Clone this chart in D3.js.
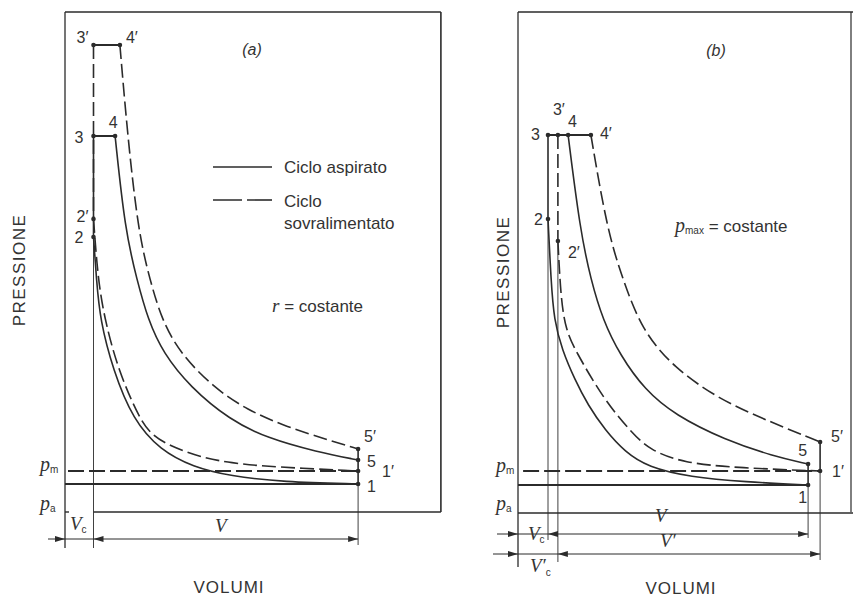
<!DOCTYPE html>
<html><head><meta charset="utf-8">
<script src="https://cdn.jsdelivr.net/npm/d3@7"></script>
<style>body{margin:0;background:#fff}svg{display:block;background:#fff}</style>
</head><body><svg id="c" width="853" height="598"></svg>
<script>
// ---------------- DATA (V in clearance-volume units, p in arbitrary pressure units) ----------------
const panelTitles = ["(a)", "(b)"];
const legendTexts = ["Ciclo aspirato", "Ciclo", "sovralimentato"];
const axisTitles = ["PRESSIONE", "VOLUMI"];

// Panel (a): r = costante
const aVc = 0.95, aV1 = 9.77;
const aP = {p3s: 46.7, p3: 37.6, p2s: 29.3, p2: 27.5, p5s: 6.3, p5: 5.2, p1s: 4.1, p1: 2.8, pa: 0};
const aV4 = 1.67, aV4s = 1.83;
const aCompSolid = [[0.95,27.5],[1.05,23.2],[1.17,19.2],[1.6,14.2],[2.27,9.2],[3.17,6.2],[4.27,4.5],[5.5,3.6],[7.27,3.0],[9.77,2.8]];
const aCompDash  = [[0.95,29.3],[1.1,23.2],[1.33,19.2],[1.77,14.2],[2.5,9.2],[2.9,7.7],[3.5,6.6],[4.5,5.5],[5.5,4.9],[6.93,4.5],[9.77,4.1]];
const aExpSolid  = [[1.67,37.6],[2.0,28.2],[2.4,23.2],[2.77,19.2],[3.27,15.9],[4.17,12.5],[5.5,9.2],[6.73,7.4],[8.4,6.0],[9.77,5.2]];
const aExpDash   = [[1.83,46.7],[2.07,38.2],[2.43,28.2],[2.83,23.2],[3.23,19.2],[3.83,15.9],[4.93,12.5],[6.07,10.2],[7.4,8.5],[8.83,7.15],[9.77,6.3]];

// Panel (b): p_max = costante
const bVc = 1.0, bVcs = 1.33, bV1 = 9.67, bV1s = 10.07;
const bP = {p3: 37.7, p2: 29.3, p2s: 27.1, p5s: 7.0, p5: 4.8, p1s: 4.1, p1: 2.7, pa: 0};
const bV4 = 1.67, bV4s = 2.43;
const bCompSolid = [[1.0,29.3],[1.1,23.2],[1.2,19.2],[1.47,16.2],[1.9,13.2],[2.33,10.7],[2.9,8.2],[3.57,6.0],[4.33,4.5],[5.73,3.5],[7.57,3.0],[9.67,2.7]];
const bCompDash  = [[1.33,27.1],[1.43,21.2],[1.6,18.2],[1.9,16.2],[2.87,11.2],[3.8,7.9],[4.4,6.2],[5.5,4.9],[7.4,4.4],[10.07,4.1]];
const bExpSolid  = [[1.67,37.7],[2.07,28.2],[2.43,23.2],[2.83,19.2],[3.4,15.7],[4.23,12.2],[5.23,9.7],[6.9,7.2],[8.5,5.6],[9.67,4.8]];
const bExpDash   = [[2.43,37.7],[2.97,28.2],[3.5,23.2],[4.13,18.2],[5.17,14.5],[6.73,11.2],[8.5,8.9],[10.07,7.0]];

// ---------------- DRAWING ----------------
const INK = "#2b2b2b", TXT = "#333";
const SANS = "'Liberation Sans', Arial, sans-serif";
const SERIF = "'Liberation Serif', 'Times New Roman', serif";
const svg = d3.select("#c");
const x = d3.scaleLinear().domain([0, 12.5]).range([0, 375]);
const y = d3.scaleLinear().domain([0, 50]).range([500, 0]);
const curve = d3.line().x(d => x(d[0])).y(d => y(d[1])).curve(d3.curveBasis);
const DASH = "14,5";

function seg(g, v1, p1, v2, p2, w, dash) {
  g.append("line").attr("x1", x(v1)).attr("y1", y(p1)).attr("x2", x(v2)).attr("y2", y(p2))
    .attr("stroke", INK).attr("stroke-width", w).attr("stroke-dasharray", dash || null);
}
function vlinePx(g, v, p, yBottomPx, w) {
  g.append("line").attr("x1", x(v)).attr("x2", x(v)).attr("y1", y(p)).attr("y2", yBottomPx)
    .attr("stroke", INK).attr("stroke-width", w);
}
function path(g, data, dash) {
  g.append("path").attr("d", curve(data)).attr("fill", "none").attr("stroke", INK)
    .attr("stroke-width", 1.6).attr("stroke-dasharray", dash || null);
}
function dot(g, v, p) { g.append("circle").attr("cx", x(v)).attr("cy", y(p)).attr("r", 2.3).attr("fill", INK); }
function label(g, t, v, p, dx, dy, anchor) {
  g.append("text").attr("x", x(v) + dx).attr("y", y(p) + dy).attr("text-anchor", anchor || "start")
    .attr("font-family", SANS).attr("font-size", 16).attr("fill", TXT).text(t);
}
function arrow(g, xt, yt, dir) {
  g.append("path").attr("d", `M${xt},${yt} L${xt - dir * 10},${yt - 3} L${xt - dir * 10},${yt + 3} Z`).attr("fill", INK);
}
function sub(g, xp, yp, main, subT, opts) {
  opts = opts || {};
  const t = g.append("text").attr("x", xp).attr("y", yp).attr("fill", TXT);
  t.append("tspan").attr("font-family", SERIF).attr("font-style", "italic").attr("font-size", opts.size || 19).text(main);
  t.append("tspan").attr("font-family", SANS).attr("font-size", opts.subSize || 10).attr("dy", opts.subDy || 3).text(subT);
  return t;
}
function vtitle(xc, yc) {
  svg.append("text").attr("transform", `translate(${xc},${yc}) rotate(-90)`).attr("text-anchor", "middle")
    .attr("font-family", SANS).attr("font-size", 17).attr("letter-spacing", 1.5).attr("fill", TXT).text(axisTitles[0]);
}
function htitle(xc, yb) {
  svg.append("text").attr("x", xc).attr("y", yb).attr("text-anchor", "middle")
    .attr("font-family", SANS).attr("font-size", 17).attr("letter-spacing", 1).attr("fill", TXT).text(axisTitles[1]);
}

// ===== Panel (a) =====
const ga = svg.append("g").attr("transform", "translate(65,12)");
const aRight = 12.53;
seg(ga, 0, 50, aRight, 50, 1.6);
vlinePx(ga, 0, 50, 536, 1.3);
seg(ga, aRight, 50, aRight, 0, 1.6);
seg(ga, aVc, aP.pa, aRight, aP.pa, 1.6);
ga.append("line").attr("x1", 0).attr("x2", 4).attr("y1", y(0)).attr("y2", y(0)).attr("stroke", INK).attr("stroke-width", 1.4);
vlinePx(ga, aVc, aP.p2, 536, 0.9);
seg(ga, aVc, aP.p3s, aVc, aP.p2s, 1.6, DASH);
seg(ga, aVc, aP.p3, aVc, aP.p2, 1.6);
vlinePx(ga, aV1, aP.p1, 533, 0.9);
seg(ga, aV1, aP.p5s, aV1, aP.p1, 1.6);
seg(ga, 0, aP.p1, aV1, aP.p1, 1.8);
seg(ga, 0.1, aP.p1s, aV1, aP.p1s, 1.8, "16,5");
seg(ga, aVc, aP.p3s, aV4s, aP.p3s, 2);
seg(ga, aVc, aP.p3, aV4, aP.p3, 2);
path(ga, aCompSolid); path(ga, aExpSolid);
path(ga, aCompDash, DASH); path(ga, aExpDash, DASH);
[[aVc,aP.p3s],[aV4s,aP.p3s],[aVc,aP.p3],[aV4,aP.p3],[aVc,aP.p2s],[aVc,aP.p2],[aV1,aP.p5s],[aV1,aP.p5],[aV1,aP.p1s],[aV1,aP.p1]].forEach(d => dot(ga, d[0], d[1]));
label(ga, "3′", aVc, aP.p3s, -5, -2, "end");
label(ga, "4′", aV4s, aP.p3s, 6, -2);
label(ga, "3", aVc, aP.p3, -10, 7, "end");
label(ga, "4", aV4, aP.p3, -2, -8, "middle");
label(ga, "2′", aVc, aP.p2s, -5, 3, "end");
label(ga, "2", aVc, aP.p2, -10, 6, "end");
label(ga, "5′", aV1, aP.p5s, 6, -7);
label(ga, "5", aV1, aP.p5, 9, 7);
label(ga, "1′", aV1, aP.p1s, 24, 6);
label(ga, "1", aV1, aP.p1, 9, 8);
ga.append("line").attr("x1", -17).attr("x2", x(aV1)).attr("y1", 527).attr("y2", 527).attr("stroke", INK).attr("stroke-width", 1);
arrow(ga, x(0), 527, 1); arrow(ga, x(aVc), 527, -1); arrow(ga, x(aV1), 527, 1);
sub(ga, 5, 518, "V", "c", {size: 19, subSize: 10, subDy: 3});
ga.append("text").attr("x", 150).attr("y", 520).attr("font-family", SERIF).attr("font-style", "italic").attr("font-size", 19).attr("fill", TXT).text("V");
sub(svg, 40, 471, "p", "m", {size: 20, subSize: 10, subDy: 2});
sub(svg, 40, 510, "p", "a", {size: 20, subSize: 10, subDy: 2});
svg.append("text").attr("x", 252).attr("y", 55).attr("text-anchor", "middle").attr("font-family", SANS).attr("font-style", "italic").attr("font-size", 16).attr("fill", TXT).text(panelTitles[0]);
svg.append("line").attr("x1", 213).attr("x2", 272).attr("y1", 167).attr("y2", 167).attr("stroke", INK).attr("stroke-width", 1.6);
svg.append("line").attr("x1", 213).attr("x2", 272).attr("y1", 200).attr("y2", 200).attr("stroke", INK).attr("stroke-width", 1.6).attr("stroke-dasharray", "29,5");
[[legendTexts[0], 173], [legendTexts[1], 207], [legendTexts[2], 229]].forEach(d =>
  svg.append("text").attr("x", 284).attr("y", d[1]).attr("font-family", SANS).attr("font-size", 17).attr("fill", TXT).text(d[0]));
{
  const t = svg.append("text").attr("x", 272).attr("y", 312).attr("fill", TXT).attr("font-size", 17);
  t.append("tspan").attr("font-family", SERIF).attr("font-style", "italic").attr("font-size", 19).text("r");
  t.append("tspan").attr("font-family", SANS).text(" = costante");
}
vtitle(25, 270);
htitle(229, 593);

// ===== Panel (b) =====
const gb = svg.append("g").attr("transform", "translate(518,12)");
const bRight = 11.1;
seg(gb, 0, 50, 11.2, 50, 1.6);
vlinePx(gb, 0, 50, 555, 1.3);
seg(gb, bRight, 50, bRight, 0, 1.2);
seg(gb, 0, bP.pa - 0.1, 11.2, bP.pa - 0.1, 1.6);
vlinePx(gb, bVc, bP.p2, 528, 0.9);
vlinePx(gb, bVcs, bP.p2s, 550, 0.9);
seg(gb, bVc, bP.p3, bVc, bP.p2, 1.6);
seg(gb, bVcs, bP.p3, bVcs, bP.p2s, 1.6, DASH);
vlinePx(gb, bV1, bP.p1, 526, 0.9);
vlinePx(gb, bV1s, bP.p1s, 548, 0.9);
seg(gb, bV1, bP.p5, bV1, bP.p1, 1.6);
seg(gb, bV1s, bP.p5s, bV1s, bP.p1s, 1.6);
seg(gb, 0, bP.p1, bV1, bP.p1, 1.8);
seg(gb, 0.17, bP.p1s, bV1s, bP.p1s, 1.8, "16,5");
seg(gb, bVc, bP.p3, bV4s, bP.p3, 2);
path(gb, bCompSolid); path(gb, bExpSolid);
path(gb, bCompDash, DASH); path(gb, bExpDash, DASH);
[[bVc,bP.p3],[bVcs,bP.p3],[bV4,bP.p3],[bV4s,bP.p3],[bVc,bP.p2],[bVcs,bP.p2s],[bV1s,bP.p5s],[bV1,bP.p5],[bV1s,bP.p1s],[bV1,bP.p1]].forEach(d => dot(gb, d[0], d[1]));
label(gb, "3", bVc, bP.p3, -8, 5, "end");
label(gb, "3′", bVcs, bP.p3, -5, -20);
label(gb, "4", bV4, bP.p3, 0, -8);
label(gb, "4′", bV4s, bP.p3, 9, 4);
label(gb, "2", bVc, bP.p2, -5, 6, "end");
label(gb, "2′", bVcs, bP.p2s, 10, 17);
label(gb, "5′", bV1s, bP.p5s, 11, 0);
label(gb, "5", bV1, bP.p5, -1, -8, "end");
label(gb, "1′", bV1s, bP.p1s, 12, 6);
label(gb, "1", bV1, bP.p1, -1, 18, "end");
gb.append("line").attr("x1", -21).attr("x2", x(bV1)).attr("y1", 522).attr("y2", 522).attr("stroke", INK).attr("stroke-width", 1);
arrow(gb, x(0), 522, 1); arrow(gb, x(bVc), 522, -1); arrow(gb, x(bV1), 522, 1);
gb.append("line").attr("x1", -25).attr("x2", x(bV1s)).attr("y1", 542).attr("y2", 542).attr("stroke", INK).attr("stroke-width", 1);
arrow(gb, x(0), 542, 1); arrow(gb, x(bVcs), 542, -1); arrow(gb, x(bV1s), 542, 1);
sub(gb, 10, 528, "V", "c", {size: 19, subSize: 10, subDy: 3});
{
  const t = gb.append("text").attr("x", 12).attr("y", 560).attr("fill", TXT);
  t.append("tspan").attr("font-family", SERIF).attr("font-style", "italic").attr("font-size", 19).text("V′");
  t.append("tspan").attr("font-family", SANS).attr("font-size", 10).attr("dy", 4).text("c");
}
gb.append("text").attr("x", 137).attr("y", 510).attr("font-family", SERIF).attr("font-style", "italic").attr("font-size", 19).attr("fill", TXT).text("V");
gb.append("text").attr("x", 142).attr("y", 535).attr("font-family", SERIF).attr("font-style", "italic").attr("font-size", 19).attr("fill", TXT).text("V′");
sub(svg, 496, 472, "p", "m", {size: 20, subSize: 10, subDy: 2});
sub(svg, 496, 510, "p", "a", {size: 20, subSize: 10, subDy: 2});
svg.append("text").attr("x", 716).attr("y", 56).attr("text-anchor", "middle").attr("font-family", SANS).attr("font-style", "italic").attr("font-size", 16).attr("fill", TXT).text(panelTitles[1]);
{
  const t = svg.append("text").attr("x", 675).attr("y", 232).attr("fill", TXT).attr("font-size", 17);
  t.append("tspan").attr("font-family", SERIF).attr("font-style", "italic").attr("font-size", 20).text("p");
  t.append("tspan").attr("font-family", SANS).attr("font-size", 10).attr("dy", 2).text("max");
  t.append("tspan").attr("font-family", SANS).attr("dy", -2).text(" = costante");
}
vtitle(509, 272);
htitle(681, 594);
</script></body></html>
